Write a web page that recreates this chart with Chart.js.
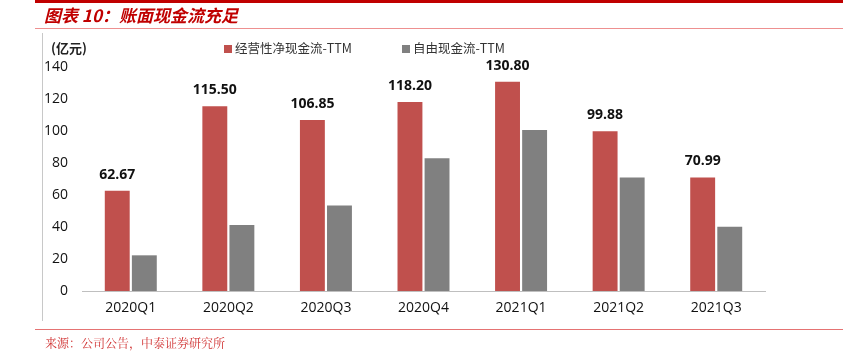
<!DOCTYPE html>
<html>
<head>
<meta charset="utf-8">
<script src="https://cdn.jsdelivr.net/npm/chart.js@4.4.0/dist/chart.umd.min.js"></script>
<style>
  html, body { margin: 0; padding: 0; background: #fff; }
  #wrap { position: relative; width: 845px; height: 355px; overflow: hidden; font-family: "Noto Sans CJK SC", "Open Sans", sans-serif; }
  #chart { position: absolute; left: 0; top: 0; }
  .abs { position: absolute; white-space: nowrap; }
  #topline { left: 35px; top: 0px; width: 808px; height: 3px; background: #C00000; }
  #title { left: 44px; top: 3px; font-size: 17px; font-weight: bold; font-style: italic; color: #C00000; line-height: 24px; }
  #subline { left: 35px; top: 28px; width: 808px; height: 1px; background: #EE9090; }
  #frame { left: 42px; top: 33px; width: 1px; height: 288px; background: #C8C8C8; }
  #unit { left: 51px; top: 39px; font-size: 13px; font-weight: bold; color: #222; line-height: 18px; }
  #legend { left: 224px; top: 39px; font-size: 12.5px; color: #333; line-height: 18px; }
  .item { position: absolute; top: 0; white-space: nowrap; }
  .sw { display: inline-block; width: 8px; height: 8px; margin-right: 3px; vertical-align: 0px; }
  #footline { left: 35px; top: 329px; width: 808px; height: 1px; background: #E57373; }
  #footer { left: 45px; top: 334px; font-size: 12px; color: #D03030; line-height: 18px; font-family: "Noto Serif CJK SC", "Noto Sans CJK SC", serif; }
</style>
</head>
<body>
<div id="wrap">
  <canvas id="chart" width="845" height="355"></canvas>
  <div class="abs" id="topline"></div>
  <div class="abs" id="title">图表 10：账面现金流充足</div>
  <div class="abs" id="subline"></div>
  <div class="abs" id="frame"></div>
  <div class="abs" id="unit">(亿元)</div>
  <div class="abs" id="legend"></div>
  <div class="abs" id="footline"></div>
  <div class="abs" id="footer">来源：公司公告，中泰证券研究所</div>
</div>
<script>
const categories = ["2020Q1", "2020Q2", "2020Q3", "2020Q4", "2021Q1", "2021Q2", "2021Q3"];
const seriesNames = ["经营性净现金流-TTM", "自由现金流-TTM"];
const operatingCF = [62.67, 115.50, 106.85, 118.20, 130.80, 99.88, 70.99];
const freeCF = [22.3, 41.3, 53.5, 82.9, 100.6, 71.0, 40.2];
const yTicks = [0, 20, 40, 60, 80, 100, 120, 140];
const colors = ["#C0504D", "#808080"];

// HTML legend from series names
const legendEl = document.getElementById('legend');
const legendOffsets = [0, 178];
seriesNames.forEach((n, i) => {
  const it = document.createElement('span');
  it.className = 'item';
  it.style.left = legendOffsets[i] + 'px';
  const sw = document.createElement('span');
  sw.className = 'sw';
  sw.style.background = colors[i];
  it.appendChild(sw);
  it.appendChild(document.createTextNode(n));
  legendEl.appendChild(it);
});

const valueLabels = {
  id: 'valueLabels',
  afterDatasetsDraw(chart) {
    const ctx = chart.ctx;
    const meta = chart.getDatasetMeta(0);
    ctx.save();
    ctx.font = 'bold 14px "Open Sans", "Noto Sans", sans-serif';
    ctx.fillStyle = '#111';
    ctx.textAlign = 'center';
    ctx.textBaseline = 'middle';
    meta.data.forEach((bar, i) => {
      ctx.fillText(operatingCF[i].toFixed(2), bar.x, bar.y - 16);
    });
    ctx.restore();
  }
};

new Chart(document.getElementById('chart'), {
  type: 'bar',
  data: {
    labels: categories,
    datasets: [
      { label: seriesNames[0], data: operatingCF, backgroundColor: colors[0], borderWidth: 0, barPercentage: 0.92, categoryPercentage: 0.555 },
      { label: seriesNames[1], data: freeCF, backgroundColor: colors[1], borderWidth: 0, barPercentage: 0.92, categoryPercentage: 0.555 }
    ]
  },
  options: {
    responsive: false,
    animation: false,
    layout: { padding: { left: 0, right: 80, top: 67, bottom: 34 } },
    plugins: { legend: { display: false }, tooltip: { enabled: false } },
    scales: {
      x: {
        grid: { display: false, drawTicks: false },
        border: { display: true, color: '#BFBFBF', width: 1 },
        ticks: { color: '#111', font: { size: 14, family: '"Open Sans", "Noto Sans", sans-serif' }, padding: 9 },
        afterFit(s) { s.height = 30; }
      },
      y: {
        min: 0, max: 140,
        afterBuildTicks(s) { s.ticks = yTicks.map(v => ({ value: v })); },
        grid: { display: false, drawTicks: false },
        border: { display: false },
        ticks: { color: '#111', font: { size: 14, family: '"Open Sans", "Noto Sans", sans-serif' }, padding: 14 },
        afterFit(s) { s.width = 82; }
      }
    }
  },
  plugins: [valueLabels]
});
</script>
</body>
</html>
